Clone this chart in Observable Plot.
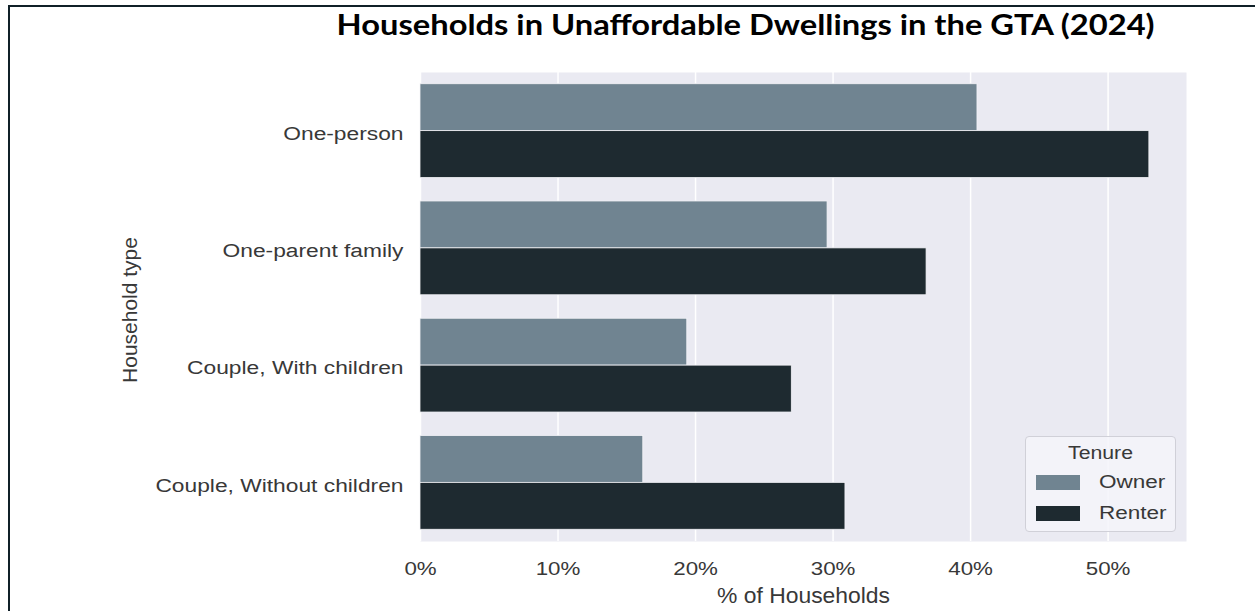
<!DOCTYPE html>
<html>
<head>
<meta charset="utf-8">
<script src="https://cdn.jsdelivr.net/npm/d3@7"></script>
<script src="https://cdn.jsdelivr.net/npm/@observablehq/plot@0.6"></script>
<style>
  html, body { margin: 0; padding: 0; background: #fff; }
  #wrap { position: relative; width: 1255px; height: 611px; overflow: hidden; font-family: "Liberation Sans", Arial, sans-serif; }
  #border { position: absolute; left: 8px; top: 5px; right: 0; bottom: 0; border-left: 2px solid #102028; border-top: 2px solid #102028; }
  #title { position: absolute; left: 746px; top: 7px; white-space: nowrap; font-family: "Lato", "Open Sans", sans-serif; font-weight: 700; font-size: 28px; color: #000; }
  #title span { display: inline-block; }
  #chart { position: absolute; left: 0; top: 48px; }
  #legend { position: absolute; left: 1025px; top: 436px; width: 151px; height: 96px; box-sizing: border-box; border: 1px solid #d0d0d8; border-radius: 4px; background: rgba(245,245,250,0.85); color: #383838; font-size: 18px; }
  #legend .t { position: absolute; left: 0; width: 100%; top: 6px; text-align: center; }
  #legend .t span { display: inline-block; transform: scaleX(1.18); }
  #legend .row { position: absolute; left: 10px; height: 20px; }
  #legend .sw { position: absolute; left: 0; top: 3px; width: 44px; height: 15px; }
  #legend .lb { position: absolute; left: 63px; top: 0; transform: scaleX(1.25); transform-origin: left center; }
</style>
</head>
<body>
<div id="wrap">
  <div id="border"></div>
  <div id="title"><span></span></div>
  <div id="chart"></div>
  <div id="legend"></div>
</div>
<script>
const titleText = "Households in Unaffordable Dwellings in the GTA (2024)";
const householdTypes = ["One-person", "One-parent family", "Couple, With children", "Couple, Without children"];
const tenures = ["Owner", "Renter"];
const ownerValues = [40.5, 29.6, 19.4, 16.2];
const renterValues = [53.0, 36.8, 27.0, 30.9];
const xTicks = [0, 10, 20, 30, 40, 50];
const tenureColors = ["#708491", "#1e2a30"];
const xLabel = "% of Households";
const yLabel = "Household type";
const legendTitle = "Tenure";

// title, stretched horizontally like the reference
const tspan = document.querySelector("#title span");
tspan.textContent = titleText;
const tw = tspan.getBoundingClientRect().width;
const titleWidth = 818;
document.getElementById("title").style.left = (746 - tw / 2) + "px";
tspan.style.transformOrigin = "center";
tspan.style.transform = `scaleX(${titleWidth / tw})`;

const data = [];
householdTypes.forEach((h, i) => {
  data.push({household: h, tenure: "Owner", value: ownerValues[i]});
  data.push({household: h, tenure: "Renter", value: renterValues[i]});
});

const width = 1255, height = 563;
const marginTop = 24, marginBottom = 70, marginLeft = 420, marginRight = 69;
const paddingInner = 0.2, paddingOuter = 0.1;
const step = (height - marginTop - marginBottom) / (householdTypes.length - paddingInner + 2 * paddingOuter);
const half = step * (1 - paddingInner) / 2;

const chart = Plot.plot({
  width, height, marginTop, marginBottom, marginLeft, marginRight,
  style: {fontFamily: "'Liberation Sans', Arial, sans-serif", fontSize: "18px", color: "#383838", background: "transparent"},
  x: {domain: [0, 55.7], ticks: xTicks, tickFormat: d => d + "%"},
  y: {domain: householdTypes, paddingInner, paddingOuter, round: false},
  color: {domain: tenures, range: tenureColors},
  marks: [
    Plot.frame({fill: "#eaeaf2", stroke: null}),
    Plot.gridX(xTicks, {stroke: "#ffffff", strokeOpacity: 1, strokeWidth: 1.5}),
    Plot.barX(data.filter(d => d.tenure === "Owner"), {x: "value", y: "household", fill: d => d.tenure, insetBottom: half, stroke: "#f4f4f8", strokeWidth: 0.8}),
    Plot.barX(data.filter(d => d.tenure === "Renter"), {x: "value", y: "household", fill: d => d.tenure, insetTop: half, stroke: "#f4f4f8", strokeWidth: 0.8}),
    Plot.axisX({ticks: xTicks, tickFormat: d => d + "%", tickSize: 0, tickPadding: 21, label: null, fill: "#383838"}),
    Plot.axisY({tickSize: 0, tickPadding: 17, dy: 3, label: null, fill: "#383838"}),
    Plot.text([xLabel], {frameAnchor: "bottom", dy: 54, lineAnchor: "middle", fontSize: 22, fill: "#383838"}),
    Plot.text([yLabel], {frameAnchor: "left", dx: -290, dy: 3, rotate: -90, lineAnchor: "middle", textAnchor: "middle", fontSize: 21, fill: "#383838"})
  ]
});
document.getElementById("chart").appendChild(chart);

// stretch horizontal texts to match the reference's wide rendering
function stretch(sel, k) {
  chart.querySelectorAll(sel).forEach(t => {
    const len = t.getComputedTextLength();
    t.setAttribute("textLength", len * k);
    t.setAttribute("lengthAdjust", "spacingAndGlyphs");
  });
}
stretch('g[aria-label="y-axis tick label"] text', 1.265);
stretch('g[aria-label="x-axis tick label"] text', 1.24);
chart.querySelectorAll('g[aria-label="text"] text').forEach(t => {
  if (t.textContent === xLabel) {
    t.setAttribute("textLength", t.getComputedTextLength() * 1.04);
    t.setAttribute("lengthAdjust", "spacingAndGlyphs");
  }
});

const lg = document.getElementById("legend");
const t = document.createElement("div");
t.className = "t";
const ts = document.createElement("span");
ts.textContent = legendTitle; t.appendChild(ts); lg.appendChild(t);
tenures.forEach((name, i) => {
  const row = document.createElement("div");
  row.className = "row";
  row.style.top = (35 + i * 31) + "px";
  const sw = document.createElement("div");
  sw.className = "sw"; sw.style.background = tenureColors[i];
  const lb = document.createElement("div");
  lb.className = "lb"; lb.textContent = name;
  row.appendChild(sw); row.appendChild(lb);
  lg.appendChild(row);
});
</script>
</body>
</html>
